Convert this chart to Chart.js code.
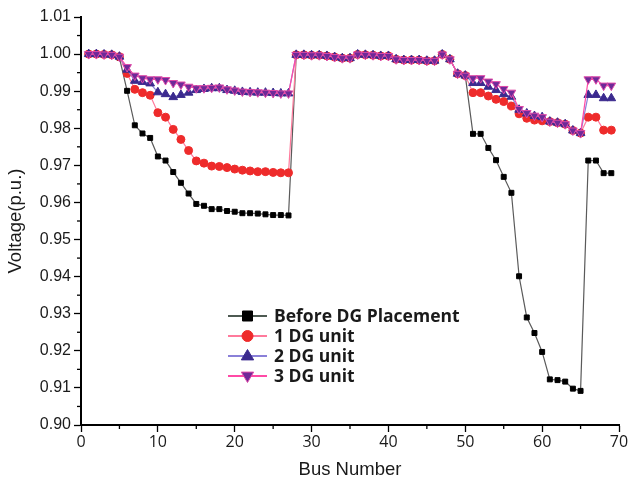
<!DOCTYPE html>
<html>
<head>
<meta charset="utf-8">
<script src="https://cdn.jsdelivr.net/npm/chart.js@4/dist/chart.umd.min.js"></script>
<style>
  body { margin: 0; background: #fff; }
  #wrap { position: relative; width: 637px; height: 486px; }
</style>
</head>
<body>
<div id="wrap"><canvas id="chart" width="637" height="486"></canvas></div>
<script>
// bus numbers of the 69-bus feeder
const busNumbers = [1, 2, 3, 4, 5, 6, 7, 8, 9, 10, 11, 12, 13, 14, 15, 16, 17, 18, 19, 20,
    21, 22, 23, 24, 25, 26, 27, 28, 29, 30, 31, 32, 33, 34, 35, 36, 37, 38, 39, 40,
    41, 42, 43, 44, 45, 46, 47, 48, 49, 50, 51, 52, 53, 54, 55, 56, 57, 58, 59, 60,
    61, 62, 63, 64, 65, 66, 67, 68, 69];

const seriesNames = ['Before DG Placement', '1 DG unit', '2 DG unit', '3 DG unit'];

const beforeDG = [1.0000, 1.0000, 0.9999, 0.9998, 0.9990, 0.9901, 0.9808, 0.9786, 0.9774, 0.9724,
    0.9713, 0.9682, 0.9653, 0.9624, 0.9596, 0.9591, 0.9582, 0.9582, 0.9577, 0.9575,
    0.9571, 0.9571, 0.9570, 0.9568, 0.9566, 0.9566, 0.9565, 0.9998, 0.9998, 0.9997,
    0.9997, 0.9995, 0.9992, 0.9989, 0.9989, 0.9999, 0.9998, 0.9997, 0.9995, 0.9995,
    0.9986, 0.9984, 0.9984, 0.9984, 0.9982, 0.9982, 0.9999, 0.9986, 0.9947, 0.9942,
    0.9785, 0.9785, 0.9747, 0.9714, 0.9669, 0.9626, 0.9401, 0.9290, 0.9248, 0.9197,
    0.9123, 0.9121, 0.9117, 0.9098, 0.9092, 0.9713, 0.9713, 0.9679, 0.9679];

const oneDG = [1.0000, 1.0000, 0.9999, 0.9998, 0.9993, 0.9948, 0.9905, 0.9896, 0.9889, 0.9842,
    0.9830, 0.9797, 0.9770, 0.9740, 0.9712, 0.9706, 0.9698, 0.9697, 0.9694, 0.9690,
    0.9687, 0.9685, 0.9683, 0.9683, 0.9681, 0.9680, 0.9680, 0.9998, 0.9998, 0.9997,
    0.9997, 0.9995, 0.9992, 0.9989, 0.9989, 0.9999, 0.9998, 0.9997, 0.9995, 0.9995,
    0.9986, 0.9984, 0.9984, 0.9984, 0.9982, 0.9982, 0.9999, 0.9986, 0.9947, 0.9942,
    0.9896, 0.9896, 0.9887, 0.9878, 0.9872, 0.9860, 0.9839, 0.9827, 0.9822, 0.9820,
    0.9818, 0.9815, 0.9811, 0.9794, 0.9787, 0.9830, 0.9830, 0.9795, 0.9795];

const twoDG = [1.0000, 1.0000, 0.9999, 0.9998, 0.9993, 0.9958, 0.9928, 0.9925, 0.9921, 0.9897,
    0.9892, 0.9884, 0.9890, 0.9896, 0.9903, 0.9906, 0.9908, 0.9908, 0.9903, 0.9901,
    0.9898, 0.9897, 0.9896, 0.9896, 0.9895, 0.9894, 0.9894, 0.9998, 0.9998, 0.9997,
    0.9997, 0.9995, 0.9992, 0.9989, 0.9989, 0.9999, 0.9998, 0.9997, 0.9995, 0.9995,
    0.9986, 0.9984, 0.9984, 0.9984, 0.9982, 0.9982, 0.9999, 0.9986, 0.9947, 0.9942,
    0.9922, 0.9922, 0.9912, 0.9903, 0.9892, 0.9885, 0.9850, 0.9840, 0.9833, 0.9830,
    0.9818, 0.9815, 0.9811, 0.9794, 0.9787, 0.9890, 0.9890, 0.9881, 0.9881];

const threeDG = [1.0000, 1.0000, 0.9999, 0.9998, 0.9993, 0.9965, 0.9942, 0.9935, 0.9932, 0.9932,
    0.9930, 0.9922, 0.9918, 0.9912, 0.9908, 0.9908, 0.9909, 0.9910, 0.9905, 0.9902,
    0.9899, 0.9898, 0.9897, 0.9896, 0.9895, 0.9894, 0.9894, 0.9998, 0.9998, 0.9997,
    0.9997, 0.9995, 0.9992, 0.9989, 0.9989, 0.9999, 0.9998, 0.9997, 0.9995, 0.9995,
    0.9986, 0.9984, 0.9984, 0.9984, 0.9982, 0.9982, 0.9999, 0.9986, 0.9947, 0.9942,
    0.9935, 0.9935, 0.9926, 0.9919, 0.9906, 0.9896, 0.9852, 0.9841, 0.9834, 0.9830,
    0.9818, 0.9815, 0.9811, 0.9794, 0.9787, 0.9932, 0.9932, 0.9915, 0.9915];

const xTicks = [0, 10, 20, 30, 40, 50, 60, 70];
const yTicks = [0.90, 0.91, 0.92, 0.93, 0.94, 0.95, 0.96, 0.97, 0.98, 0.99, 1.00, 1.01];

function toPoints(values) {
    return values.map((v, i) => ({ x: busNumbers[i], y: v }));
}

const styles = [
    { line: '#5a5a5a', fill: '#000000', edge: '#000000', shape: 'rect', radius: 3.5, rot: 0 },
    { line: '#ff7a9c', fill: '#ee2b2b', edge: '#ee2b2b', shape: 'circle', radius: 4, rot: 0 },
    { line: '#8a80d8', fill: '#3b2a8e', edge: '#3b2a8e', shape: 'triangle', radius: 5, rot: 0 },
    { line: '#ff4aa6', fill: '#6e2a98', edge: '#e04aa8', shape: 'triangle', radius: 5, rot: 180 }
];

const seriesValues = [beforeDG, oneDG, twoDG, threeDG];

const datasets = seriesValues.map((vals, i) => ({
    label: seriesNames[i],
    data: toPoints(vals),
    borderColor: styles[i].line,
    borderWidth: 1.2,
    pointStyle: styles[i].shape,
    pointRotation: styles[i].rot,
    pointRadius: styles[i].radius,
    pointBackgroundColor: styles[i].fill,
    pointBorderColor: styles[i].edge,
    pointBorderWidth: 1,
    tension: 0,
    order: 3 - i
}));

function drawMarker(ctx, st, x, y) {
    const r = st.radius;
    ctx.save();
    ctx.fillStyle = st.fill;
    ctx.strokeStyle = st.edge;
    ctx.lineWidth = 1;
    ctx.beginPath();
    if (st.shape === 'rect') {
        ctx.rect(x - r, y - r, 2 * r, 2 * r);
    } else if (st.shape === 'circle') {
        ctx.arc(x, y, r, 0, Math.PI * 2);
    } else {
        const dir = st.rot === 180 ? -1 : 1;
        ctx.moveTo(x, y - dir * r);
        ctx.lineTo(x - r * 0.95, y + dir * r * 0.6);
        ctx.lineTo(x + r * 0.95, y + dir * r * 0.6);
        ctx.closePath();
    }
    ctx.fill();
    ctx.stroke();
    ctx.restore();
}

// minor ticks and a legend sitting inside the plot area
const extras = {
    id: 'extras',
    afterDraw(chart) {
        const ctx = chart.ctx;
        const xs = chart.scales.x;
        const ys = chart.scales.y;
        ctx.save();
        ctx.strokeStyle = '#000';
        ctx.lineWidth = 1.3;
        for (let i = 0; i < yTicks.length - 1; i++) {
            const py = ys.getPixelForValue((yTicks[i] + yTicks[i + 1]) / 2);
            ctx.beginPath();
            ctx.moveTo(xs.left - 4, py);
            ctx.lineTo(xs.left, py);
            ctx.stroke();
        }
        for (let i = 0; i < xTicks.length - 1; i++) {
            const px = xs.getPixelForValue((xTicks[i] + xTicks[i + 1]) / 2);
            ctx.beginPath();
            ctx.moveTo(px, ys.bottom);
            ctx.lineTo(px, ys.bottom + 4);
            ctx.stroke();
        }
        ctx.restore();

        const lx0 = 228, lx1 = 267, tx = 274, top = 316, gap = 20;
        ctx.save();
        ctx.font = 'bold 17.5px "Open Sans", sans-serif';
        ctx.textBaseline = 'middle';
        seriesNames.forEach((name, i) => {
            const y = top + i * gap;
            ctx.strokeStyle = i === 0 ? '#4d5a52' : styles[i].line;
            ctx.lineWidth = 2;
            ctx.beginPath();
            ctx.moveTo(lx0, y);
            ctx.lineTo(lx1, y);
            ctx.stroke();
            drawMarker(ctx, Object.assign({}, styles[i], { radius: styles[i].radius + 1.5 }), (lx0 + lx1) / 2, y);
            ctx.fillStyle = '#1a1a1a';
            ctx.fillText(name, tx, y + 1);
        });
        ctx.restore();
    }
};

new Chart(document.getElementById('chart'), {
    type: 'line',
    data: { datasets: datasets },
    options: {
        responsive: false,
        animation: false,
        devicePixelRatio: 1,
        layout: { padding: { top: 17, right: 18, left: 0, bottom: 0 } },
        plugins: {
            legend: { display: false },
            tooltip: { enabled: false }
        },
        scales: {
            x: {
                type: 'linear',
                min: 0,
                max: 70,
                afterFit: s => { s.height = 61; },
                afterBuildTicks: s => { s.ticks = xTicks.map(v => ({ value: v })); },
                ticks: {
                    color: '#1a1a1a',
                    padding: 1,
                    maxRotation: 0,
                    font: { family: '"Open Sans", sans-serif', size: 16 }
                },
                grid: { drawOnChartArea: false, tickLength: 7, tickColor: '#000', tickWidth: 1.3 },
                border: { color: '#000', width: 2 },
                title: {
                    display: true,
                    text: 'Bus Number',
                    color: '#1a1a1a',
                    font: { family: '"Liberation Sans", Arial, sans-serif', size: 18.5 },
                    padding: { top: 0, bottom: 5 }
                }
            },
            y: {
                min: 0.90,
                max: 1.01,
                afterFit: s => { s.width = 81; },
                afterBuildTicks: s => { s.ticks = yTicks.map(v => ({ value: v })); },
                ticks: {
                    color: '#1a1a1a',
                    padding: 3,
                    callback: v => v.toFixed(2),
                    font: { family: '"Liberation Sans", Arial, sans-serif', size: 16 }
                },
                grid: { drawOnChartArea: false, tickLength: 7, tickColor: '#000', tickWidth: 1.3 },
                border: { color: '#000', width: 2 },
                title: {
                    display: true,
                    text: 'Voltage(p.u.)',
                    color: '#1a1a1a',
                    font: { family: '"Liberation Sans", Arial, sans-serif', size: 18.5 },
                    padding: { top: 5, bottom: 0 }
                }
            }
        }
    },
    plugins: [extras]
});
</script>
</body>
</html>
